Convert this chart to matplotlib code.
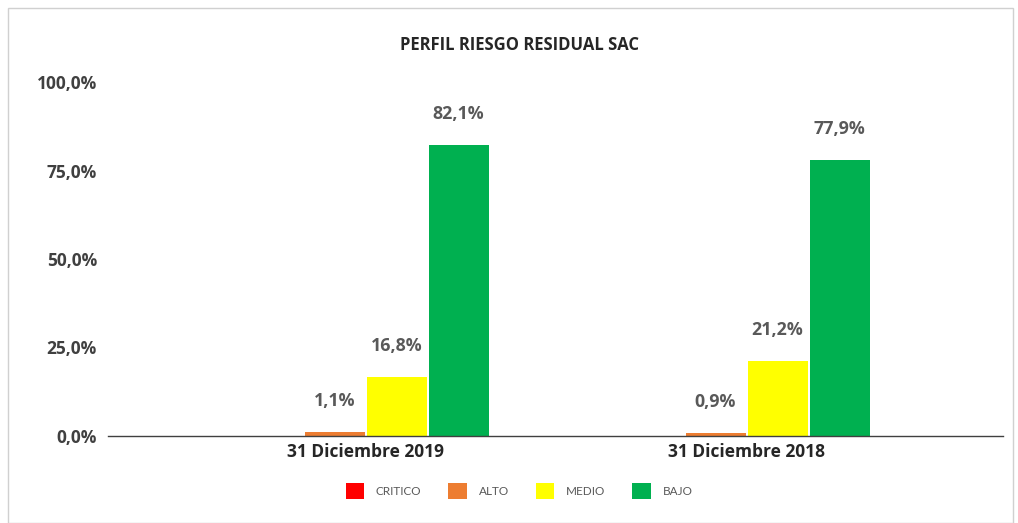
import matplotlib
matplotlib.use("Agg")
import matplotlib.pyplot as plt
import numpy as np
from matplotlib.patches import Rectangle

categories = ["31 Diciembre 2019", "31 Diciembre 2018"]
series = ["CRITICO", "ALTO", "MEDIO", "BAJO"]
values = {
    "CRITICO": [0.0, 0.0],
    "ALTO": [1.1, 0.9],
    "MEDIO": [16.8, 21.2],
    "BAJO": [82.1, 77.9],
}
colors = {"CRITICO": "#FF0000", "ALTO": "#ED7D31", "MEDIO": "#FFFF00", "BAJO": "#00B050"}
yticks = [0, 25, 50, 75, 100]

fig = plt.figure(figsize=(10.18, 5.23), dpi=100)
ax = fig.add_axes([108/1018, 1-436/523, (1003-108)/1018, (436-82)/523])

slot = 62/381
bw = 60/381
x = np.arange(len(categories))
for i, s in enumerate(series):
    offs = (i - 1.5) * slot
    ax.bar(x + offs, values[s], width=bw, color=colors[s], label=s, zorder=2)
    for xi, v in zip(x, values[s]):
        if v > 0:
            ax.annotate(f"{v:.1f}%".replace(".", ","), (xi + offs, v),
                        xytext=(0, 31), textcoords="offset pixels",
                        ha="center", va="center", fontsize=12.8, fontweight="bold",
                        color="#595959", family="Open Sans")

ax.set_xlim(-257.5/381, 637.5/381)
ax.set_ylim(0, 100)
ax.set_yticks(yticks)
ax.set_yticklabels([f"{t:.1f}%".replace(".", ",") for t in yticks],
                   fontsize=12.5, fontweight="bold", color="#404040", family="Open Sans")
ax.set_xticks(x)
ax.set_xticklabels(categories, fontsize=12.5, fontweight="bold", color="#262626", family="Open Sans")
ax.tick_params(axis="y", length=0, pad=8)
ax.tick_params(axis="x", length=0, pad=5)
for sp in ["top", "right", "left"]:
    ax.spines[sp].set_visible(False)
ax.spines["bottom"].set_color("#404040")
ax.spines["bottom"].set_linewidth(1.0)

fig.text(520/1018, 1-45/523, "PERFIL RIESGO RESIDUAL SAC", ha="center", va="center",
         fontsize=12, fontweight="bold", color="#262626", family="Open Sans")

leg = fig.legend(loc="center", bbox_to_anchor=(519/1018, 1-491/523), ncol=4, frameon=False,
                 prop={"family": "Lato", "size": 8.5}, handlelength=1.55, handleheight=1.7,
                 columnspacing=2.3, handletextpad=1.0)
for t in leg.get_texts():
    t.set_color("#595959")

fig.patches.append(Rectangle((8/1018, 0), (1013-8)/1018, 1-8/523, transform=fig.transFigure,
                             fill=False, edgecolor="#D0D0D0", linewidth=1))

fig.savefig("out.png", dpi=100)
